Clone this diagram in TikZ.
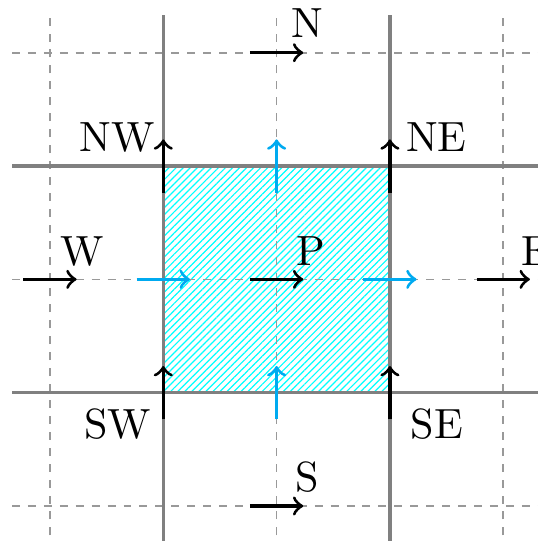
\documentclass[tikz,border=0pt]{standalone}
\usetikzlibrary{patterns.meta}
\definecolor{fluxblue}{RGB}{0,170,240}
\begin{document}
\begin{tikzpicture}[x=1cm,y=1cm,
  dgrid/.style={gray!80, line width=0.4pt, dash pattern=on 2pt off 2pt},
  sgrid/.style={gray, line width=0.8pt},
  flux/.style={->, line width=0.8pt, black},
  bflux/.style={->, line width=0.8pt, fluxblue},
  lbl/.style={inner sep=0pt, font=\fontsize{10.6}{12}\selectfont}]
\useasboundingbox (-2.441,-2.309) rectangle (2.306,2.465);
\fill[pattern={Lines[angle=45,distance=1.25pt,line width=0.3pt]}, pattern color=cyan] (-1,-1) rectangle (1,1);
% dashed grid
\foreach \c in {-2,0,2} {
  \draw[dgrid] (\c,-2.4) -- (\c,2.33);
  \draw[dgrid] (-2.335,\c) -- (2.4,\c);
}
% solid grid
\foreach \c in {-1,1} {
  \draw[sgrid] (\c,-2.4) -- (\c,2.33);
  \draw[sgrid] (-2.335,\c) -- (2.4,\c);
}
% points
\coordinate (P) at (0,0);
\coordinate (N) at (0,2);
\coordinate (S) at (0,-2);
\coordinate (W) at (-2,0);
\coordinate (E) at (2,0);
\coordinate (NW) at (-1,1);
\coordinate (NE) at (1,1);
\coordinate (SW) at (-1,-1);
\coordinate (SE) at (1,-1);
\coordinate (fw) at (-1,0);
\coordinate (fe) at (1,0);
\coordinate (fn) at (0,1);
\coordinate (fs) at (0,-1);
% horizontal black arrows
\foreach \p in {P,N,S,W,E} {
  \draw[flux] ([xshift=-0.235cm]\p) -- ([xshift=0.235cm]\p);
}
% vertical black arrows
\foreach \p in {NW,NE,SW,SE} {
  \draw[flux] ([yshift=-0.235cm]\p) -- ([yshift=0.235cm]\p);
}
% blue face arrows
\draw[bflux] ([xshift=-0.235cm]fw) -- ([xshift=0.235cm]fw);
\draw[bflux] ([xshift=-0.235cm]fe) -- ([xshift=0.235cm]fe);
\draw[bflux] ([yshift=-0.235cm]fn) -- ([yshift=0.235cm]fn);
\draw[bflux] ([yshift=-0.235cm]fs) -- ([yshift=0.235cm]fs);
% labels
\node[lbl, anchor=base west] (lN) at (0.122,2.132) {N};
\node[lbl, anchor=base west] (lW) at (-1.91,0.126) {W};
\node[lbl, anchor=base west] (lP) at (0.165,0.126) {P};
\node[lbl, anchor=base west] (lE) at (2.152,0.126) {E};
\node[lbl, anchor=base east] (lNW) at (-1.07,1.126) {NW};
\node[lbl, anchor=base west] (lNE) at (1.137,1.126) {NE};
\node[lbl, anchor=base east] (lSW) at (-1.10,-1.403) {SW};
\node[lbl, anchor=base west] (lSE) at (1.178,-1.403) {SE};
\node[lbl, anchor=base west] (lS) at (0.162,-1.874) {S};
\end{tikzpicture}
\end{document}
